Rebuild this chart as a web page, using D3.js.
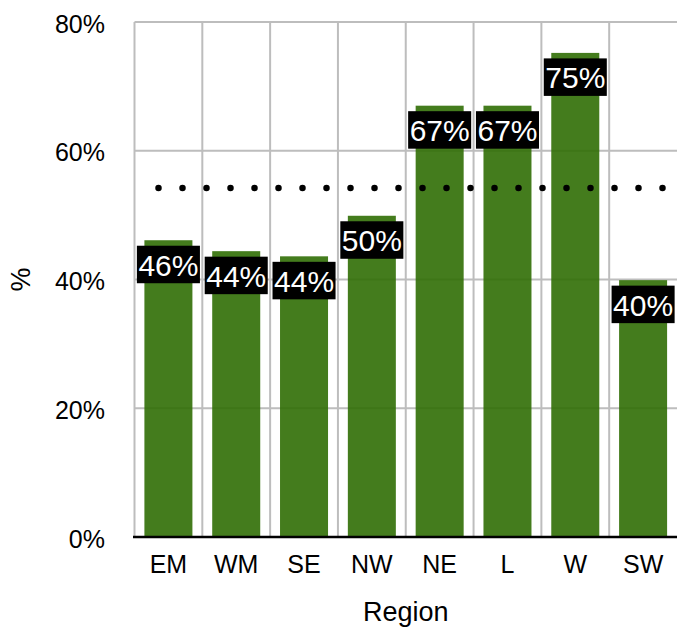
<!DOCTYPE html>
<html>
<head>
<meta charset="utf-8">
<script src="https://cdn.jsdelivr.net/npm/d3@7"></script>
<style>
  html, body { margin: 0; padding: 0; background: #fff; }
  svg { display: block; font-family: "Liberation Sans", Arial, Helvetica, sans-serif; }
</style>
</head>
<body>
<svg id="chart" width="677" height="628"></svg>
<script>
// Share of respondents by region (%)
const regions = ["EM", "WM", "SE", "NW", "NE", "L", "W", "SW"];
const shares = [46.1, 44.4, 43.6, 49.9, 67.0, 67.0, 75.2, 39.9];
const averageShare = 54.2;
const yTicks = [0, 20, 40, 60, 80];

const width = 677, height = 628;
const margin = { top: 22, right: 0, bottom: 91, left: 134.5 };

const svg = d3.select("#chart");

const x = d3.scaleBand()
  .domain(regions)
  .range([margin.left, width - margin.right])
  .paddingInner(0.292)
  .paddingOuter(0.146);

const y = d3.scaleLinear()
  .domain([0, 80])
  .range([height - margin.bottom, margin.top]);

const step = x.step();
const x0 = margin.left - step * x.paddingOuter();

// grid
const grid = svg.append("g").attr("stroke", "#bdbdbd").attr("stroke-width", 2);
grid.selectAll("line.h").data(yTicks).join("line")
  .attr("class", "h")
  .attr("x1", margin.left).attr("x2", width)
  .attr("y1", d => y(d)).attr("y2", d => y(d));
grid.selectAll("line.v").data(d3.range(regions.length)).join("line")
  .attr("class", "v")
  .attr("x1", i => x(regions[i]) - step * x.paddingInner() / 2)
  .attr("x2", i => x(regions[i]) - step * x.paddingInner() / 2)
  .attr("y1", y(80)).attr("y2", y(0));

// bars
svg.append("g").selectAll("rect").data(regions).join("rect")
  .attr("x", d => x(d))
  .attr("width", x.bandwidth())
  .attr("y", (d, i) => y(shares[i]))
  .attr("height", (d, i) => y(0) - y(shares[i]))
  .attr("fill", "#306e04")
  .attr("fill-opacity", 0.9);

// average reference line (dotted)
svg.append("line")
  .attr("x1", margin.left + 12).attr("x2", width)
  .attr("y1", y(averageShare)).attr("y2", y(averageShare))
  .attr("stroke", "#000")
  .attr("stroke-width", 6.5)
  .attr("stroke-linecap", "round")
  .attr("stroke-dasharray", "0 24")
  .attr("stroke-dashoffset", 12);

// value labels
const fmt = v => Math.round(v) + "%";
const labels = svg.append("g").selectAll("g").data(regions).join("g")
  .attr("transform", (d, i) => `translate(${x(d) + x.bandwidth() / 2},${y(shares[i]) + 5.5})`);
labels.append("rect").attr("fill", "#000");
labels.append("text")
  .attr("text-anchor", "middle")
  .attr("y", 30)
  .attr("fill", "#fff")
  .attr("font-size", 30)
  .text((d, i) => fmt(shares[i]));
labels.each(function() {
  const g = d3.select(this);
  const w = g.select("text").node().getComputedTextLength() + 3;
  g.select("rect").attr("x", -w / 2).attr("y", 0).attr("width", w).attr("height", 37.5);
});

// y axis tick labels
const yAxis = d3.axisLeft(y).tickValues(yTicks).tickFormat(d => d + "%").tickSize(0).tickPadding(29.5);
const ya = svg.append("g").attr("transform", `translate(${margin.left},0)`).call(yAxis);
ya.select(".domain").remove();
ya.selectAll("text").attr("font-size", 25).attr("font-family", null).attr("fill", "#000").attr("dy", "0.4em");

// x axis tick labels
const xAxis = d3.axisBottom(x).tickSize(0).tickPadding(18);
const xa = svg.append("g").attr("transform", `translate(0,${y(0)})`).call(xAxis);
xa.select(".domain").remove();
xa.selectAll("text").attr("font-size", 25).attr("font-family", null).attr("fill", "#000");

// baseline
svg.append("line")
  .attr("x1", margin.left - 1.5).attr("x2", width)
  .attr("y1", y(0)).attr("y2", y(0))
  .attr("stroke", "#000").attr("stroke-width", 2.5);

// axis titles
svg.append("text")
  .attr("x", (margin.left + width) / 2).attr("y", 620.5)
  .attr("text-anchor", "middle").attr("font-size", 27).attr("fill", "#000")
  .text("Region");
svg.append("text")
  .attr("transform", `translate(30,${(y(0) + y(80)) / 2}) rotate(-90)`)
  .attr("text-anchor", "middle").attr("font-size", 27).attr("fill", "#000")
  .text("%");
</script>
</body>
</html>
